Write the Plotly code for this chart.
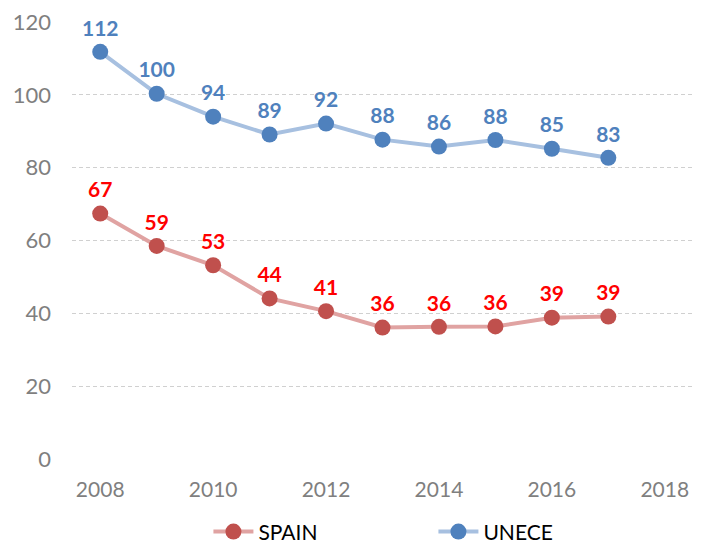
import plotly.graph_objects as go

years = [2008, 2009, 2010, 2011, 2012, 2013, 2014, 2015, 2016, 2017]
spain = [67.4, 58.5, 53.2, 44.1, 40.6, 36.1, 36.3, 36.4, 38.8, 39.1]
unece = [111.8, 100.3, 94.0, 89.1, 92.1, 87.7, 85.8, 87.6, 85.2, 82.7]
spain_labels = ["67", "59", "53", "44", "41", "36", "36", "36", "39", "39"]
unece_labels = ["112", "100", "94", "89", "92", "88", "86", "88", "85", "83"]

FONT = "Lato"

fig = go.Figure()
fig.add_trace(go.Scatter(
    x=years, y=spain, name="SPAIN", mode="lines+markers+text",
    line=dict(color="#e0a3a2", width=4),
    marker=dict(color="#c0504d", size=16),
    text=spain_labels, textposition="top center",
    textfont=dict(family=FONT, size=21, color="#ff0000", weight="bold"),
    cliponaxis=False,
))
fig.add_trace(go.Scatter(
    x=years, y=unece, name="UNECE", mode="lines+markers+text",
    line=dict(color="#a7c0e0", width=4),
    marker=dict(color="#4f81bd", size=16),
    text=unece_labels, textposition="top center",
    textfont=dict(family=FONT, size=21, color="#4f81bd", weight="bold"),
    cliponaxis=False,
))

fig.update_layout(
    width=704, height=545,
    margin=dict(l=72, r=11, t=22, b=86, autoexpand=False),
    paper_bgcolor="white", plot_bgcolor="white",
    font=dict(family=FONT, size=21, color="#7f7f7f"),
    showlegend=True,
    legend=dict(orientation="h", x=0.582, xanchor="center", xref="paper",
                y=0.024, yanchor="middle", yref="container",
                font=dict(family=FONT, size=21, color="#000000"),
                itemwidth=40, tracegroupgap=0, entrywidthmode="pixels", entrywidth=170),
    xaxis=dict(range=[2007.5, 2018.5], tickmode="linear", tick0=2008, dtick=2,
               showgrid=False, zeroline=False, showline=False, ticks="",
               automargin=False, ticklabelstandoff=16,
               tickfont=dict(family=FONT, size=21, color="#7f7f7f")),
    yaxis=dict(range=[0, 120], tickmode="linear", tick0=0, dtick=20,
               showgrid=True, gridcolor="#d0d0d0", griddash="4px,3px", gridwidth=1,
               zeroline=False, showline=False, ticks="", ticklabelstandoff=20,
               automargin=False,
               tickfont=dict(family=FONT, size=22, color="#7f7f7f")),
)

fig.write_html("out.html", post_script="document.body.style.margin='0';",
               config={"displayModeBar": False})
